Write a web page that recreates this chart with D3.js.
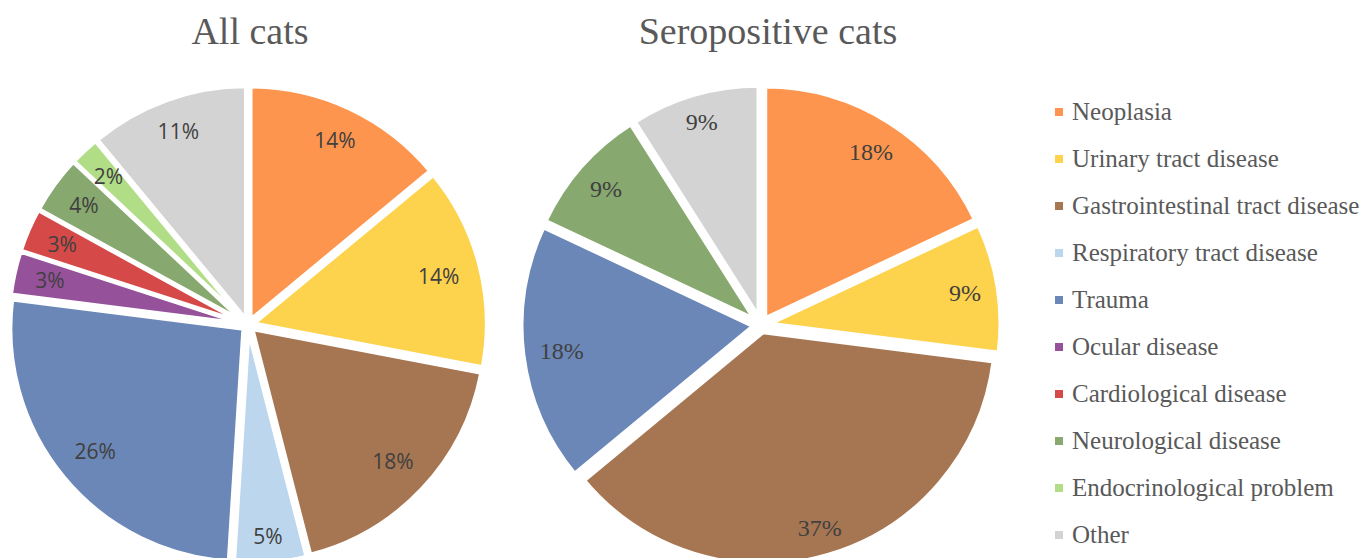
<!DOCTYPE html>
<html><head><meta charset="utf-8">
<script src="https://cdn.jsdelivr.net/npm/d3@7"></script>
<style>body{margin:0;background:#fff} svg{display:block}
.lab-sans{font-family:"Open Sans",sans-serif}
.lab-serif{font-family:"Liberation Serif","Times New Roman",serif}
</style></head><body>
<svg id="chart" width="1360" height="558"></svg>
<script>
const categories = ["Neoplasia","Urinary tract disease","Gastrointestinal tract disease","Respiratory tract disease","Trauma","Ocular disease","Cardiological disease","Neurological disease","Endocrinological problem","Other"];
const allCatsPct = [14,14,18,5,26,3,3,4,2,11];
const seropositivePct = [18,9,37,0,18,0,0,9,0,9];
const sliceColors = ["#FD954E","#FDD24D","#A67652","#BCD6EE","#6A87B7","#95519A","#D54A48","#87A86E","#B0DD86","#D3D3D3"];
const chartTitles = ["All cats","Seropositive cats"];

const svg = d3.select("#chart");
const R = 233;
const pies = [
  {title: chartTitles[0], values: allCatsPct, cx: 248, cy: 325, tx: 250, labelClass: "lab-sans", labelSize: 21, inset: 16, explode: 6, border: 4},
  {title: chartTitles[1], values: seropositivePct, cx: 761, cy: 325, tx: 768, labelClass: "lab-serif", labelSize: 24, inset: 12, explode: 7, border: 5}
];
const pie = d3.pie().sort(null).value(d => d.value);
const arc = d3.arc().innerRadius(0).outerRadius(R);

pies.forEach(p => {
  svg.append("text").attr("x", p.tx).attr("y", 44).attr("text-anchor","middle")
    .attr("class","lab-serif").style("font-size","38px")
    .attr("fill","#595959").text(p.title);
  const data = categories.map((c,i) => ({cat: c, value: p.values[i], color: sliceColors[i]}));
  const arcs = pie(data).filter(a => a.data.value > 0);
  const g = svg.append("g").attr("transform", `translate(${p.cx},${p.cy})`);
  const slices = g.selectAll("g.slice").data(arcs).join("g").attr("class","slice")
    .attr("transform", a => { const m = (a.startAngle + a.endAngle)/2; return `translate(${Math.sin(m)*p.explode},${-Math.cos(m)*p.explode})`; });
  slices.append("path").attr("d", arc).attr("fill", a => a.data.color)
    .attr("stroke","#fff").attr("stroke-width",p.border).attr("stroke-linejoin","round");
  slices.append("text")
    .attr("class", p.labelClass).style("font-size", p.labelSize + "px")
    .attr("text-anchor","middle").attr("dy","0.36em")
    .attr("fill","#404040")
    .text(a => a.data.value + "%")
    .each(function(a) {
      const w = this.getComputedTextLength() + 8;
      const h = p.labelSize * 0.8;
      const m = (a.startAngle + a.endAngle)/2;
      const ux = Math.sin(m), uy = -Math.cos(m);
      const L = R - p.inset;
      const b = Math.abs(ux)*w + Math.abs(uy)*h;
      const c = (w*w + h*h)/4 - L*L;
      const r = (-b + Math.sqrt(b*b - 4*c))/2;
      d3.select(this).attr("x", ux*r).attr("y", uy*r);
    });
});

const legend = svg.append("g");
const items = legend.selectAll("g").data(categories).join("g")
  .attr("transform", (d,i) => `translate(1055,${112 + i*47})`);
items.append("rect").attr("x",0).attr("y",-4).attr("width",8).attr("height",8).attr("fill",(d,i) => sliceColors[i]);
items.append("text").attr("x",17).attr("dy","0.33em")
  .attr("class","lab-serif").style("font-size","25px")
  .attr("fill","#595959").text(d => d);
</script>
</body></html>
